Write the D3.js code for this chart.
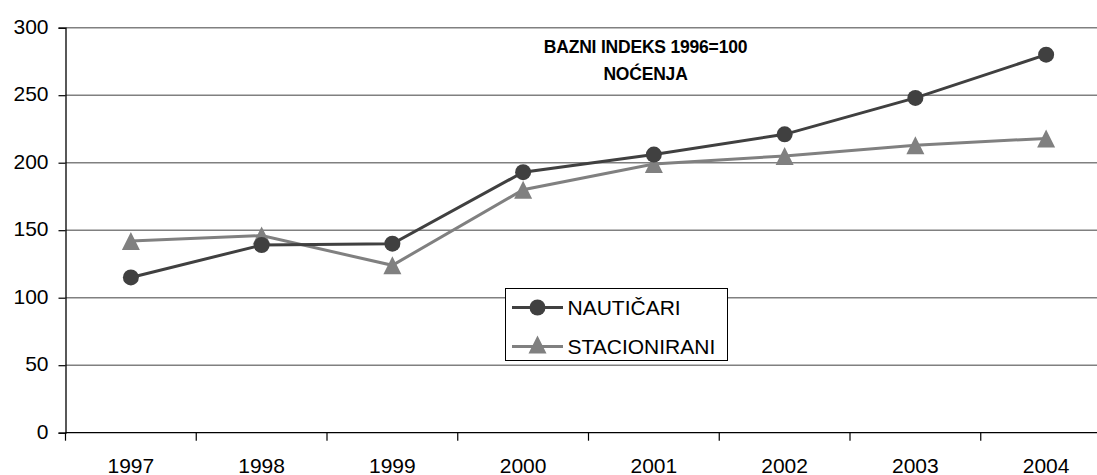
<!DOCTYPE html>
<html>
<head>
<meta charset="utf-8">
<script src="https://cdn.jsdelivr.net/npm/d3@7"></script>
<style>
  body { margin: 0; background: #fff; }
  svg text { font-family: "Liberation Sans", Arial, sans-serif; }
</style>
</head>
<body>
<div id="chart"></div>
<script>
var years = ['1997', '1998', '1999', '2000', '2001', '2002', '2003', '2004'];
var nauticari = [115, 139, 140, 193, 206, 221, 248, 280];
var stacionirani = [142, 146, 124, 180, 199, 205, 213, 218];
var yTicks = [0, 50, 100, 150, 200, 250, 300];
var seriesNames = ['NAUTIČARI', 'STACIONIRANI'];
var titleLines = ['BAZNI INDEKS 1996=100', 'NOĆENJA'];

var W = 1097, H = 475;
// window.top is reserved, so plot edges get their own names
var plotLeft = 65.5, plotRight = 1111.5, plotTop = 27.7, plotBottom = 432.7;

var svg = d3.select('#chart').append('svg').attr('width', W).attr('height', H);

var x = d3.scaleBand().domain(years).range([plotLeft, plotRight]);
var y = d3.scaleLinear().domain([0, 300]).range([plotBottom, plotTop]);

// gridlines
svg.append('g').selectAll('line').data(yTicks.filter(function (d) { return d > 0; }))
  .enter().append('line')
  .attr('x1', plotLeft).attr('x2', W)
  .attr('y1', function (d) { return y(d); }).attr('y2', function (d) { return y(d); })
  .attr('stroke', '#808080').attr('stroke-width', 1.4);

// y axis
var yAxis = svg.append('g').attr('transform', 'translate(' + plotLeft + ',0)')
  .call(d3.axisLeft(y).tickValues(yTicks).tickSize(7).tickPadding(10));
yAxis.select('.domain').attr('stroke', '#000').attr('stroke-width', 1.3);
yAxis.selectAll('.tick line').attr('stroke', '#000').attr('stroke-width', 1.2);
yAxis.selectAll('.tick text').attr('font-size', 21).attr('fill', '#000')
  .attr('font-family', '"Liberation Sans", Arial, sans-serif').attr('dy', '0.27em');

// x axis: ticks at band boundaries
var xAxis = svg.append('g');
xAxis.append('line').attr('x1', plotLeft).attr('x2', W).attr('y1', plotBottom).attr('y2', plotBottom)
  .attr('stroke', '#000').attr('stroke-width', 1.3);
xAxis.selectAll('.xt').data(years).enter().append('line')
  .attr('x1', function (d) { return x(d); }).attr('x2', function (d) { return x(d); })
  .attr('y1', plotBottom).attr('y2', plotBottom + 8)
  .attr('stroke', '#000').attr('stroke-width', 1.2);
xAxis.selectAll('text').data(years).enter().append('text')
  .attr('x', function (d) { return x(d) + x.bandwidth() / 2; })
  .attr('y', 472.5)
  .attr('text-anchor', 'middle').attr('font-size', 21).attr('fill', '#000')
  .text(function (d) { return d; });

// title
svg.append('g').selectAll('text').data(titleLines).enter().append('text')
  .attr('x', 645.5).attr('y', function (d, i) { return 53.3 + i * 26.7; })
  .attr('text-anchor', 'middle').attr('font-size', 17.5).attr('font-weight', 'bold')
  .attr('letter-spacing', -0.2).attr('fill', '#000')
  .text(function (d) { return d; });

var cx = function (d, i) { return x(years[i]) + x.bandwidth() / 2; };
var line = d3.line().x(function (d, i) { return cx(d, i); }).y(function (d) { return y(d); });

function triPath(size) {
  var h = size, w = size;
  return 'M0,' + (-h / 2) + 'L' + (w / 2) + ',' + (h / 2) + 'L' + (-w / 2) + ',' + (h / 2) + 'Z';
}

// stacionirani (gray, triangles)
svg.append('path').datum(stacionirani).attr('d', line)
  .attr('fill', 'none').attr('stroke', '#808080').attr('stroke-width', 3);
svg.append('g').selectAll('path').data(stacionirani).enter().append('path')
  .attr('d', triPath(18))
  .attr('transform', function (d, i) { return 'translate(' + cx(d, i) + ',' + y(d) + ')'; })
  .attr('fill', '#808080');

// nauticari (dark, circles)
svg.append('path').datum(nauticari).attr('d', line)
  .attr('fill', 'none').attr('stroke', '#404040').attr('stroke-width', 3);
svg.append('g').selectAll('circle').data(nauticari).enter().append('circle')
  .attr('cx', cx).attr('cy', function (d) { return y(d); }).attr('r', 8)
  .attr('fill', '#404040');

// legend
var lg = svg.append('g');
lg.append('rect').attr('x', 505.5).attr('y', 288.5).attr('width', 222).attr('height', 72)
  .attr('fill', '#fff').attr('stroke', '#000').attr('stroke-width', 1);
var rowY = [307.5, 346.5];
var colors = ['#404040', '#808080'];
seriesNames.forEach(function (name, i) {
  lg.append('line').attr('x1', 512).attr('x2', 563).attr('y1', rowY[i]).attr('y2', rowY[i])
    .attr('stroke', colors[i]).attr('stroke-width', 3);
  if (i === 0) {
    lg.append('circle').attr('cx', 537.5).attr('cy', rowY[i]).attr('r', 8).attr('fill', colors[i]);
  } else {
    lg.append('path').attr('d', triPath(18))
      .attr('transform', 'translate(537.5,' + (rowY[i] - 2) + ')').attr('fill', colors[i]);
  }
  lg.append('text').attr('x', 567.5).attr('y', rowY[i] + 7.5)
    .attr('font-size', 21).attr('fill', '#000').text(name);
});
</script>
</body>
</html>
